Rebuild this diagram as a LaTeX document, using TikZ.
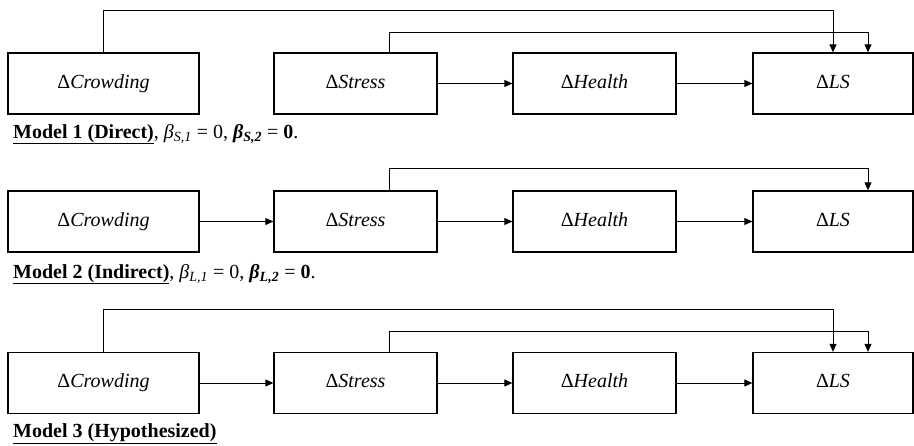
\documentclass[tikz,border=0pt]{standalone}
\usepackage{fontspec}
\setmainfont{Liberation Serif}
\usetikzlibrary{arrows.meta,calc}
\tikzset{
  box/.style={draw, line width=1.3pt, minimum height=61pt, minimum width=163pt, inner sep=0pt,
    text height=13.5pt, text depth=4.5pt,
    font=\fontsize{20}{24}\selectfont\itshape},
  wide/.style={minimum width=191pt},
  arr/.style={line width=0.9pt, -{Triangle[length=8pt,width=7pt]}},
  captxt/.style={anchor=base west, inner sep=0pt, font=\fontsize{20}{24}\selectfont},
}
\newcommand{\dl}{{\upshape Δ}}
\begin{document}
\begin{tikzpicture}[x=1pt,y=1pt]
\useasboundingbox (0,0) rectangle (914,-445);
% ---------- Model 1 ----------
\node[box,wide] (c1) at (103.5,-83.5) {\dl Crowding};
\node[box] (s1) at (355.5,-83.5) {\dl Stress};
\node[box] (h1) at (594.5,-83.5) {\dl Health};
\node[box,minimum width=160pt] (l1) at (833,-83.5) {\dl LS};
\coordinate (t1a) at (0,-10);
\coordinate (t1b) at (0,-32);
\coordinate (s1p) at ($(s1.north)+(33.5,0)$);
\coordinate (l1p) at ($(l1.north)+(35,0)$);
\draw[arr] (c1.north) -- (c1.north |- t1a) -| (l1.north);
\draw[arr] (s1p) -- (s1p |- t1b) -| (l1p);
\draw[arr] (s1.east) -- (h1.west);
\draw[arr] (h1.east) -- (l1.west);
\node[captxt] (m1) at (13,-138) {\textbf{\underline{Model 1 (Direct)}}, \textit{β}\textsubscript{\textit{S,1}} = 0, \textbf{\textit{β}\textsubscript{\textit{S,2}}} = \textbf{0}.};
% ---------- Model 2 ----------
\node[box,wide] (c2) at (103.5,-221.5) {\dl Crowding};
\node[box] (s2) at (355.5,-221.5) {\dl Stress};
\node[box] (h2) at (594.5,-221.5) {\dl Health};
\node[box,minimum width=160pt] (l2) at (833,-221.5) {\dl LS};
\coordinate (t2b) at (0,-168);
\coordinate (s2p) at ($(s2.north)+(33.5,0)$);
\coordinate (l2p) at ($(l2.north)+(35,0)$);
\draw[arr] (s2p) -- (s2p |- t2b) -| (l2p);
\draw[arr] (c2.east) -- (s2.west);
\draw[arr] (s2.east) -- (h2.west);
\draw[arr] (h2.east) -- (l2.west);
\node[captxt] (m2) at (13,-278) {\textbf{\underline{Model 2 (Indirect)}}, \textit{β}\textsubscript{\textit{L,1}} = 0, \textbf{\textit{β}\textsubscript{\textit{L,2}}} = \textbf{0}.};
% ---------- Model 3 ----------
\node[box,wide] (c3) at (103.5,-383) {\dl Crowding};
\node[box] (s3) at (355.5,-383) {\dl Stress};
\node[box] (h3) at (594.5,-383) {\dl Health};
\node[box,minimum width=160pt] (l3) at (833,-383) {\dl LS};
\coordinate (t3a) at (0,-309);
\coordinate (t3b) at (0,-331);
\coordinate (s3p) at ($(s3.north)+(33.5,0)$);
\coordinate (l3p) at ($(l3.north)+(35,0)$);
\draw[arr] (c3.north) -- (c3.north |- t3a) -| (l3.north);
\draw[arr] (s3p) -- (s3p |- t3b) -| (l3p);
\draw[arr] (c3.east) -- (s3.west);
\draw[arr] (s3.east) -- (h3.west);
\draw[arr] (h3.east) -- (l3.west);
\node[captxt] (m3) at (13,-437) {\textbf{\underline{Model 3 (Hypothesized)}}};
\end{tikzpicture}
\end{document}
